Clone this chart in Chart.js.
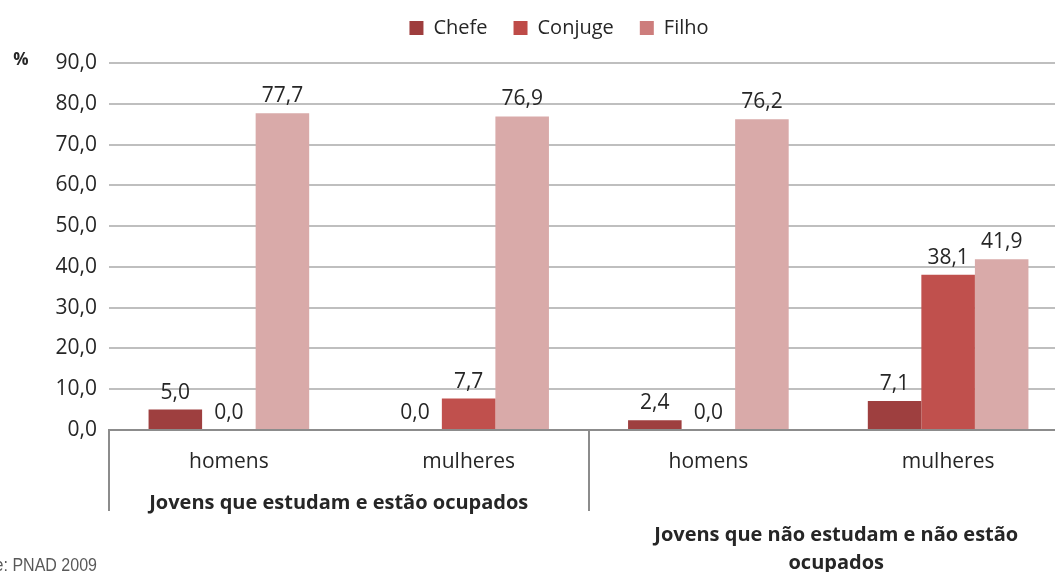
<!DOCTYPE html>
<html>
<head>
<meta charset="utf-8">
<script src="https://cdn.jsdelivr.net/npm/chart.js@4/dist/chart.umd.min.js"></script>
<style>
  html, body { margin: 0; padding: 0; background: #fff; overflow: hidden; }
  #wrap { width: 1055px; height: 572px; overflow: hidden; position: relative; }
  canvas { display: block; }
</style>
</head>
<body>
<div id="wrap"><canvas id="grafico" width="1068" height="572"></canvas></div>
<script>
// dados
const categorias = ['homens', 'mulheres', 'homens', 'mulheres'];
const grupos = [['Jovens que estudam e estão ocupados'], ['Jovens que não estudam e não estão', 'ocupados']];
const series = ['Chefe', 'Conjuge', 'Filho'];
const chefe = [5.0, 0.0, 2.4, 7.1];
const conjuge = [0.0, 7.7, 0.0, 38.1];
const filho = [77.7, 76.9, 76.2, 41.9];
const yMin = 0, yMax = 90, yPasso = 10;
const fonte = 'Fonte: PNAD 2009';

const cores = ['#9E3F3F', '#C0504D', '#D9AAA9'];
const coresLegenda = ['#9E3D3D', '#BE4B48', '#CD7D7C'];
const FONT = '"Open Sans", sans-serif';

function fmt(v) {
  return v.toFixed(1).replace('.', ',');
}

// rotulos de valor em cima das barras
const rotulos = {
  id: 'rotulos',
  afterDatasetsDraw(chart) {
    const ctx = chart.ctx;
    ctx.save();
    ctx.font = '21px ' + FONT;
    ctx.fillStyle = '#262626';
    ctx.textAlign = 'center';
    ctx.textBaseline = 'alphabetic';
    chart.data.datasets.forEach((ds, i) => {
      const meta = chart.getDatasetMeta(i);
      meta.data.forEach((bar, j) => {
        ctx.fillText(fmt(ds.data[j]), bar.x, bar.y - 11);
      });
    });
    ctx.restore();
  }
};

// separadores e rotulos dos grupos no eixo x
const eixoGrupos = {
  id: 'eixoGrupos',
  afterDraw(chart) {
    const ctx = chart.ctx;
    const xs = chart.scales.x;
    const area = chart.chartArea;
    const catW = xs.getPixelForValue(1) - xs.getPixelForValue(0);
    const limites = [
      xs.getPixelForValue(0) - catW / 2,
      (xs.getPixelForValue(1) + xs.getPixelForValue(2)) / 2,
      xs.getPixelForValue(3) + catW / 2
    ];
    ctx.save();
    ctx.strokeStyle = '#8C8C8C';
    ctx.lineWidth = 2;
    limites.forEach(x => {
      ctx.beginPath();
      ctx.moveTo(Math.round(x), area.bottom);
      ctx.lineTo(Math.round(x), area.bottom + 81);
      ctx.stroke();
    });

    ctx.font = 'bold 20px ' + FONT;
    ctx.fillStyle = '#262626';
    ctx.textAlign = 'center';
    ctx.textBaseline = 'middle';
    // grupo 1 numa linha, grupo 2 quebrado em duas, mais abaixo
    const c1 = (limites[0] + limites[1]) / 2 - 10;
    ctx.fillText(grupos[0][0], c1, area.bottom + 73);
    const c2 = (limites[1] + limites[2]) / 2 + 8;
    ctx.fillText(grupos[1][0], c2, area.bottom + 105);
    ctx.fillText(grupos[1][1], c2, area.bottom + 133);

    // simbolo % ao lado do eixo y
    ctx.font = 'bold 17px ' + FONT;
    ctx.textAlign = 'center';
    ctx.fillText('%', 21, 60);

    // fonte (cortada na borda esquerda como no original), letra estreita
    ctx.translate(97, 571);
    ctx.scale(0.89, 1);
    ctx.font = '18px "Liberation Sans", Arial, sans-serif';
    ctx.fillStyle = '#595959';
    ctx.textAlign = 'right';
    ctx.textBaseline = 'alphabetic';
    ctx.fillText(fonte, 0, 0);
    ctx.restore();
  }
};

const ctx = document.getElementById('grafico').getContext('2d');
new Chart(ctx, {
  type: 'bar',
  data: {
    labels: categorias,
    datasets: [
      { label: series[0], data: chefe, backgroundColor: cores[0] },
      { label: series[1], data: conjuge, backgroundColor: cores[1] },
      { label: series[2], data: filho, backgroundColor: cores[2] }
    ]
  },
  options: {
    responsive: false,
    animation: false,
    categoryPercentage: 0.67,
    barPercentage: 1.0,
    layout: { padding: { left: 50, right: 0, top: -8, bottom: 0 } },
    plugins: {
      legend: {
        position: 'top',
        labels: {
          boxWidth: 14,
          boxHeight: 14,
          padding: 26,
          color: '#262626',
          font: { family: FONT, size: 20 },
          generateLabels(chart) {
            const itens = Chart.defaults.plugins.legend.labels.generateLabels(chart);
            itens.forEach((it, i) => {
              it.fillStyle = coresLegenda[i];
              it.strokeStyle = coresLegenda[i];
            });
            return itens;
          }
        }
      },
      // titulo vazio usado so como espaco entre legenda e grafico
      title: {
        display: true,
        text: '',
        position: 'top',
        weight: 500,
        font: { size: 15, lineHeight: 1 },
        padding: { top: 0, bottom: 0 }
      },
      tooltip: { enabled: false }
    },
    scales: {
      x: {
        grid: { display: false },
        border: { display: true, color: '#8C8C8C', width: 2 },
        ticks: {
          color: '#262626',
          font: { family: FONT, size: 21 },
          padding: 11
        },
        afterFit(scale) { scale.height = 142; }
      },
      y: {
        min: yMin,
        max: yMax,
        grid: { color: '#BFBFBF', lineWidth: 2, drawTicks: false },
        border: { display: false },
        ticks: {
          stepSize: yPasso,
          color: '#262626',
          font: { family: FONT, size: 21 },
          padding: 12,
          callback: v => fmt(v)
        },
        afterFit(scale) { scale.width = 59; }
      }
    }
  },
  plugins: [rotulos, eixoGrupos]
});
</script>
</body>
</html>
